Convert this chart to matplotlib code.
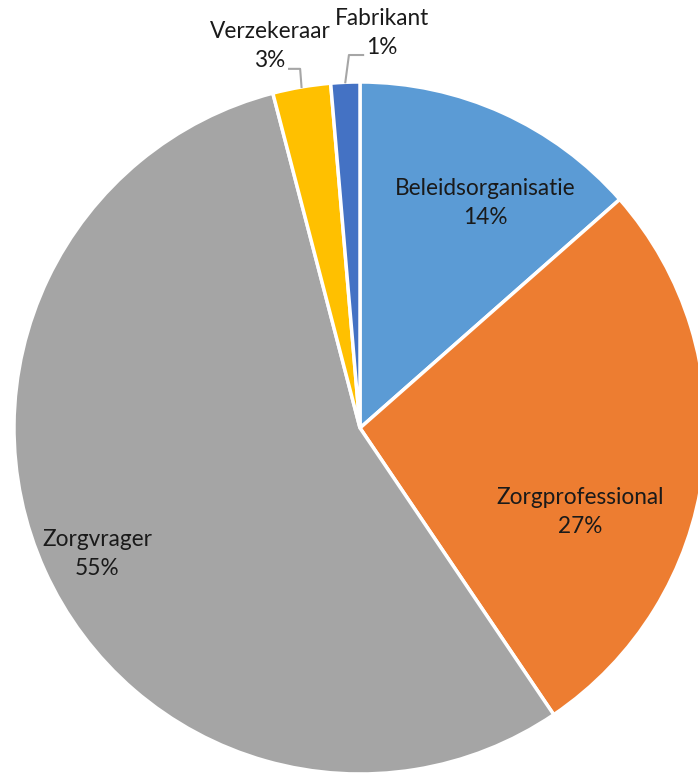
import numpy as np
import matplotlib.pyplot as plt

# Respondent groups (counts)
LABELS = ['Beleidsorganisatie', 'Zorgprofessional', 'Zorgvrager',
          'Verzekeraar', 'Fabrikant']
COUNTS = [10, 20, 41, 2, 1]
COLOURS = ['#5B9BD5', '#ED7D31', '#A5A5A5', '#FFC000', '#4472C4']

plt.rcParams['font.family'] = ['Lato', 'DejaVu Sans']

W, H = 698, 774
CX, CY, R = 360, 428, 346

fig = plt.figure(figsize=(W / 100, H / 100), dpi=100)
ax = fig.add_axes([(CX - R) / W, (H - CY - R) / H, 2 * R / W, 2 * R / H])

wedges, _ = ax.pie(COUNTS, colors=COLOURS, startangle=90,
                   counterclock=False, radius=1,
                   wedgeprops={'edgecolor': 'white', 'linewidth': 2.5})
ax.set_xlim(-1, 1)
ax.set_ylim(-1, 1)
ax.set_aspect('equal')
ax.axis('off')

total = sum(COUNTS)
pct = [f'{round(c / total * 100)}%' for c in COUNTS]

# label positions (data units, centre of pie at 0,0)
inside = {0: (0.361, 0.650), 1: (0.636, -0.243), 2: (-0.760, -0.364)}
for i, (x, y) in inside.items():
    ax.text(x, y, f'{LABELS[i]}\n{pct[i]}', ha='center', va='center',
            fontsize=16.3, color='#1a1a1a', linespacing=1.45)

outside = {3: (-0.260, 1.104), 4: (0.064, 1.142)}
for i, (x, y) in outside.items():
    ax.text(x, y, f'{LABELS[i]}\n{pct[i]}', ha='center', va='center',
            fontsize=16.3, color='#1a1a1a', linespacing=1.45, clip_on=False)

# leader lines from the small slices
for i, elbow, end in [(3, (-0.173, 1.038), (-0.205, 1.038)),
                      (4, (-0.032, 1.078), (0.009, 1.078))]:
    w = wedges[i]
    mid = np.deg2rad((w.theta1 + w.theta2) / 2)
    ax.plot([np.cos(mid), elbow[0], end[0]], [np.sin(mid), elbow[1], end[1]],
            color='#A6A6A6', linewidth=1.5, clip_on=False)

fig.savefig('out.png', dpi=100)
plt.close()
